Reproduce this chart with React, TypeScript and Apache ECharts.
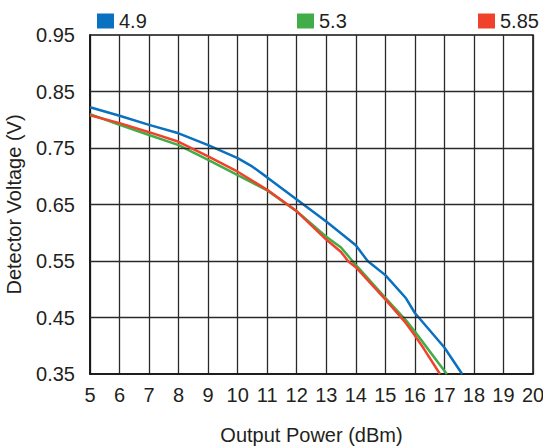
import React, { useEffect, useRef } from "react";
import * as echarts from "echarts";

const blueX = [5, 6, 7, 8, 9, 10, 10.5, 11, 12, 13, 14, 14.4, 15, 15.7, 16, 17, 17.6];
const blueY = [0.822, 0.807, 0.791, 0.776, 0.755, 0.732, 0.717, 0.698, 0.659, 0.62, 0.578, 0.55, 0.525, 0.484, 0.458, 0.397, 0.35];

const greenX = [5, 6, 7, 8, 9, 10, 11, 12, 13, 13.5, 14, 15, 15.7, 16, 17.08];
const greenY = [0.81, 0.791, 0.773, 0.755, 0.729, 0.702, 0.675, 0.638, 0.593, 0.574, 0.543, 0.485, 0.445, 0.425, 0.35];

const redX = [5, 6, 7, 8, 9, 10, 11, 12, 13, 13.5, 13.75, 14, 15, 15.7, 16, 16.3, 16.85];
const redY = [0.808, 0.794, 0.778, 0.761, 0.735, 0.708, 0.676, 0.638, 0.588, 0.566, 0.549, 0.539, 0.482, 0.44, 0.418, 0.395, 0.35];

const seriesNames = ["4.9", "5.3", "5.85"];
const seriesColors = ["#0a70c0", "#41ad49", "#f0422a"];
const gridYValues = [0.45, 0.55, 0.65, 0.75, 0.85];
const yLabelValues = [0.35, 0.45, 0.55, 0.65, 0.75, 0.85, 0.95];

const FONT = "'Liberation Sans Narrow', 'Liberation Sans', Arial, sans-serif";
const TEXT = "#231f20";

function zip(xs: number[], ys: number[]) {
  return xs.map((x, i) => [x, ys[i]]);
}

export default function App() {
  const ref = useRef<HTMLDivElement>(null);
  useEffect(() => {
    if (!ref.current) return;
    const chart = echarts.init(ref.current, null, { renderer: "svg" });
    const data = [zip(blueX, blueY), zip(greenX, greenY), zip(redX, redY)];
    const legendLefts = [92, 292, 473];
    chart.setOption({
      animation: false,
      backgroundColor: "#ffffff",
      textStyle: { fontFamily: FONT },
      legend: seriesNames.map((n, i) => ({
        data: [n],
        left: legendLefts[i],
        top: 6,
        icon: "rect",
        itemWidth: 17,
        itemHeight: 15,
        itemGap: 5,
        selectedMode: false,
        textStyle: { fontFamily: FONT, fontSize: 20, color: TEXT },
      })),
      grid: {
        left: 90,
        right: 10,
        top: 35,
        bottom: 73,
        outerBoundsMode: "none",
        containLabel: false,
        show: true,
        borderColor: "#111",
        borderWidth: 1.5,
        backgroundColor: "transparent",
      },
      xAxis: {
        type: "value",
        min: 5,
        max: 20,
        interval: 1,
        name: "Output Power (dBm)",
        nameLocation: "middle",
        nameGap: 51,
        nameTextStyle: { fontFamily: FONT, fontSize: 20, color: TEXT },
        axisLine: { show: true, lineStyle: { color: "#111", width: 1.5 } },
        axisTick: { show: false },
        axisLabel: { margin: 11, fontFamily: FONT, fontSize: 20, color: TEXT },
        splitLine: { show: true, lineStyle: { color: "#2a2a2a", width: 1.3 } },
      },
      yAxis: {
        type: "value",
        min: 0.35,
        max: 0.95,
        interval: 0.05,
        name: "Detector Voltage (V)",
        nameLocation: "middle",
        nameGap: 66,
        nameTextStyle: { fontFamily: FONT, fontSize: 20, color: TEXT },
        axisLine: { show: true, lineStyle: { color: "#111", width: 1.5 } },
        axisTick: { show: false },
        axisLabel: {
          margin: 15,
          fontFamily: FONT,
          fontSize: 20,
          color: TEXT,
          formatter: (v: number) =>
            yLabelValues.some((t) => Math.abs(t - v) < 1e-6) ? v.toFixed(2) : "",
        },
        splitLine: { show: false },
      },
      series: [
        {
          name: "_grid",
          type: "line",
          data: [],
          z: 1,
          silent: true,
          markLine: {
            silent: true,
            symbol: ["none", "none"],
            label: { show: false },
            lineStyle: { color: "#2a2a2a", width: 1.3, type: "solid" },
            data: gridYValues.map((v) => ({ yAxis: v })),
          },
        },
        ...seriesNames.map((n, i) => ({
          name: n,
          type: "line",
          data: data[i],
          showSymbol: false,
          symbol: "none",
          color: seriesColors[i],
          lineStyle: { color: seriesColors[i], width: 2.5 },
          z: 3 + i,
        })),
      ],
    });
    return () => chart.dispose();
  }, []);
  return (
    <div
      ref={ref}
      style={{ position: "absolute", left: 0, top: 0, width: 543, height: 447 }}
    />
  );
}
